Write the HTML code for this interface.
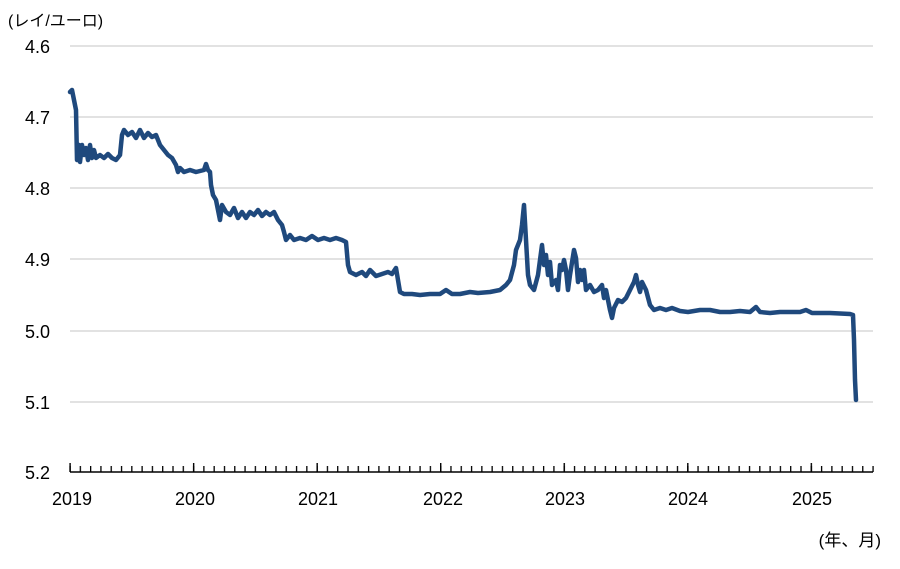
<!DOCTYPE html>
<html><head><meta charset="utf-8"><style>
body{margin:0;background:#fff;}
svg text{font-family:"Liberation Sans","Noto Sans CJK JP",sans-serif;fill:#000;}
</style></head><body>
<svg width="900" height="564" xmlns="http://www.w3.org/2000/svg">
<defs>
<pattern id="tm" x="69.4" y="0" width="10.295" height="564" patternUnits="userSpaceOnUse"><rect x="0" y="0" width="1.3" height="564" fill="#000"/></pattern>
<pattern id="ty" x="69.4" y="0" width="123.54" height="564" patternUnits="userSpaceOnUse"><rect x="0" y="0" width="1.4" height="564" fill="#000"/></pattern>
</defs>
<g stroke="#d9d9d9" stroke-width="1.5">
<line x1="70" y1="46" x2="873" y2="46"/><line x1="70" y1="117" x2="873" y2="117"/>
<line x1="70" y1="188" x2="873" y2="188"/><line x1="70" y1="259" x2="873" y2="259"/>
<line x1="70" y1="331" x2="873" y2="331"/><line x1="70" y1="402" x2="873" y2="402"/>
</g>
<g font-size="18" text-anchor="end">
<text x="50" y="53">4.6</text><text x="50" y="124">4.7</text><text x="50" y="195">4.8</text>
<text x="50" y="266">4.9</text><text x="50" y="338">5.0</text><text x="50" y="409">5.1</text><text x="50" y="479">5.2</text>
</g>
<text x="8" y="26" font-size="16">(レイ/ユーロ)</text>
<rect x="69" y="466" width="805" height="6" fill="url(#tm)"/>
<rect x="69" y="463" width="805" height="9" fill="url(#ty)"/>
<line x1="70" y1="472" x2="873" y2="472" stroke="#000" stroke-width="1.5"/>
<g font-size="18" text-anchor="middle">
<text x="72" y="505">2019</text><text x="195" y="505">2020</text><text x="318" y="505">2021</text>
<text x="443" y="505">2022</text><text x="565" y="505">2023</text><text x="688" y="505">2024</text><text x="812" y="505">2025</text>
</g>
<text x="881" y="546" font-size="17" text-anchor="end">(年、月)</text>
<polyline fill="none" stroke="#1f497d" stroke-width="4.5" stroke-linejoin="round" stroke-linecap="round" points="70,92 72,90 74,100 76,110 77,160 79,145 80,162 82,145 84,155 86,148 88,160 90,145 92,158 94,150 96,158 100,155 104,158 108,154 112,158 116,160 120,155 122,135 124,130 128,135 132,132 136,138 140,130 144,138 148,133 152,137 156,135 160,145 164,150 168,155 172,158 176,165 178,172 180,168 184,172 190,170 196,172 204,170 206,164 208,170 210,172 211,185 213,195 216,200 218,210 220,220 222,205 226,212 230,215 234,208 238,218 242,212 246,218 250,212 254,215 258,210 262,216 266,212 270,215 274,212 278,220 282,225 284,232 286,240 290,235 294,240 300,238 306,240 312,236 318,240 324,238 330,240 336,238 342,240 346,242 348,265 350,272 356,275 362,272 366,276 370,270 376,276 382,274 388,272 392,274 396,268 398,280 400,292 404,294 412,294 420,295 430,294 440,294 446,290 452,294 460,294 470,292 478,293 490,292 500,290 506,285 510,280 514,265 516,250 518,245 520,240 522,225 524,205 526,240 528,275 530,285 534,290 538,275 540,260 542,245 544,265 546,255 548,275 550,262 552,285 556,280 558,290 560,265 562,270 564,260 566,270 568,290 570,275 574,250 576,258 578,282 580,270 582,280 584,270 586,290 590,285 594,292 598,290 602,285 604,298 606,290 610,310 612,318 614,308 618,300 622,302 626,298 630,290 634,282 636,275 638,285 640,292 642,282 646,290 650,305 654,310 660,308 666,310 672,308 680,311 688,312 700,310 710,310 720,312 730,312 740,311 750,312 756,307 760,312 770,313 780,312 790,312 800,312 806,310 812,313 830,313 850,314 853,315 854,340 855,380 856,400"/>
</svg>
</body></html>
